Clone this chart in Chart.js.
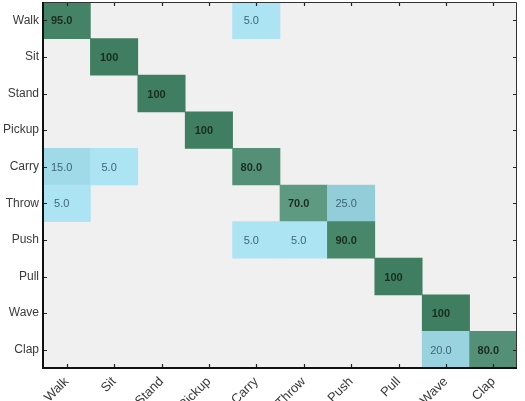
<!DOCTYPE html>
<html>
<head>
<meta charset="utf-8">
<script src="https://cdn.jsdelivr.net/npm/chart.js@4.4.0/dist/chart.umd.min.js"></script>
<style>
  body { margin: 0; background: #fff; }
  #wrap { width: 525px; height: 401px; }
</style>
</head>
<body>
<div id="wrap"><canvas id="cm"></canvas></div>
<script>
const classes = ['Walk', 'Sit', 'Stand', 'Pickup', 'Carry', 'Throw', 'Push', 'Pull', 'Wave', 'Clap'];

// rows = true class, columns = predicted class (percent)
const walkRow   = [95, 0, 0, 0, 5, 0, 0, 0, 0, 0];
const sitRow    = [0, 100, 0, 0, 0, 0, 0, 0, 0, 0];
const standRow  = [0, 0, 100, 0, 0, 0, 0, 0, 0, 0];
const pickupRow = [0, 0, 0, 100, 0, 0, 0, 0, 0, 0];
const carryRow  = [15, 5, 0, 0, 80, 0, 0, 0, 0, 0];
const throwRow  = [5, 0, 0, 0, 0, 70, 25, 0, 0, 0];
const pushRow   = [0, 0, 0, 0, 5, 5, 90, 0, 0, 0];
const pullRow   = [0, 0, 0, 0, 0, 0, 0, 100, 0, 0];
const waveRow   = [0, 0, 0, 0, 0, 0, 0, 0, 100, 0];
const clapRow   = [0, 0, 0, 0, 0, 0, 0, 0, 20, 80];

const matrix = [walkRow, sitRow, standRow, pickupRow, carryRow, throwRow, pushRow, pullRow, waveRow, clapRow];

// colour map: light blue for small values, dark green for large
const colorStops = [
  [0, [178, 234, 250]],
  [25, [148, 205, 218]],
  [70, [94, 153, 130]],
  [100, [63, 126, 96]]
];

function cellColor(v) {
  for (let i = 1; i < colorStops.length; i++) {
    const [v0, c0] = colorStops[i - 1];
    const [v1, c1] = colorStops[i];
    if (v <= v1) {
      const t = (v - v0) / (v1 - v0);
      const c = c0.map((x, k) => Math.round(x + (c1[k] - x) * t));
      return `rgb(${c[0]},${c[1]},${c[2]})`;
    }
  }
  return 'rgb(63,126,96)';
}

const cells = [];
matrix.forEach((row, r) => {
  row.forEach((v, c) => {
    if (v > 0) cells.push({ x: classes[c], y: [r, r + 1], v: v });
  });
});

const matrixFrame = {
  id: 'matrixFrame',
  beforeDatasetsDraw(chart) {
    const { ctx, chartArea: a } = chart;
    ctx.save();
    ctx.fillStyle = '#f0f0f0';
    ctx.fillRect(a.left, a.top, a.right - a.left, a.bottom - a.top);
    ctx.restore();
  },
  afterDatasetsDraw(chart) {
    const { ctx, chartArea: a } = chart;
    const meta = chart.getDatasetMeta(0);
    ctx.save();
    ctx.textAlign = 'center';
    ctx.textBaseline = 'middle';
    meta.data.forEach((bar, i) => {
      const v = cells[i].v;
      const cy = (bar.y + bar.base) / 2;
      ctx.font = (v >= 50 ? 'bold ' : '') + '11px "Liberation Sans", Arial, sans-serif';
      ctx.fillStyle = v >= 50 ? '#1a2c22' : '#3c6678';
      ctx.fillText(v === 100 ? '100' : v.toFixed(1), bar.x - 5, cy + 1);
    });

    // inward tick marks
    const xs = chart.scales.x, ys = chart.scales.y;
    ctx.strokeStyle = '#222';
    ctx.lineWidth = 1.2;
    ctx.beginPath();
    xs.ticks.forEach((t, i) => {
      const px = Math.round(xs.getPixelForTick(i)) + 0.5;
      ctx.moveTo(px, a.bottom); ctx.lineTo(px, a.bottom - 4);
      ctx.moveTo(px, a.top); ctx.lineTo(px, a.top + 4);
    });
    ys.ticks.forEach((t, i) => {
      const py = Math.round(ys.getPixelForTick(i)) + 0.5;
      ctx.moveTo(a.left, py); ctx.lineTo(a.left + 4, py);
      ctx.moveTo(a.right, py); ctx.lineTo(a.right - 4, py);
    });
    ctx.stroke();

    // box
    ctx.strokeStyle = '#333';
    ctx.lineWidth = 1;
    ctx.beginPath();
    ctx.moveTo(a.left, a.top + 0.5); ctx.lineTo(a.right - 0.5, a.top + 0.5); ctx.lineTo(a.right - 0.5, a.bottom);
    ctx.stroke();
    ctx.strokeStyle = '#111';
    ctx.lineWidth = 2;
    ctx.beginPath();
    ctx.moveTo(a.left, a.top); ctx.lineTo(a.left, a.bottom); ctx.lineTo(a.right, a.bottom);
    ctx.stroke();
    ctx.restore();
  }
};

new Chart(document.getElementById('cm'), {
  type: 'bar',
  data: {
    labels: classes,
    datasets: [{
      data: cells,
      backgroundColor: cells.map(c => cellColor(c.v)),
      borderWidth: 0,
      barPercentage: 1,
      categoryPercentage: 1
    }]
  },
  options: {
    responsive: true,
    maintainAspectRatio: false,
    animation: false,
    layout: { padding: { top: 2, right: 8, left: 0, bottom: 0 } },
    plugins: {
      legend: { display: false },
      tooltip: { enabled: false }
    },
    scales: {
      x: {
        type: 'category',
        grid: { display: false, drawTicks: false },
        border: { display: false },
        ticks: {
          minRotation: 45,
          maxRotation: 45,
          padding: 6,
          color: '#3a3a3a',
          font: { family: '"Liberation Sans", Arial, sans-serif', size: 13 }
        },
        afterFit(scale) {
          scale.height = 33;
          scale.paddingLeft = 0;
          scale.paddingRight = 0;
        }
      },
      y: {
        type: 'linear',
        reverse: true,
        min: 0,
        max: 10,
        grid: { display: false, drawTicks: false },
        border: { display: false },
        afterBuildTicks(scale) {
          scale.ticks = classes.map((_, i) => ({ value: i + 0.5 }));
        },
        ticks: {
          padding: 4,
          color: '#3a3a3a',
          font: { family: '"Liberation Sans", Arial, sans-serif', size: 12 },
          callback: (v) => classes[Math.floor(v)]
        },
        afterFit(scale) {
          scale.width = 43;
          scale.paddingTop = 0;
          scale.paddingBottom = 0;
        }
      }
    }
  },
  plugins: [matrixFrame]
});
</script>
</body>
</html>
